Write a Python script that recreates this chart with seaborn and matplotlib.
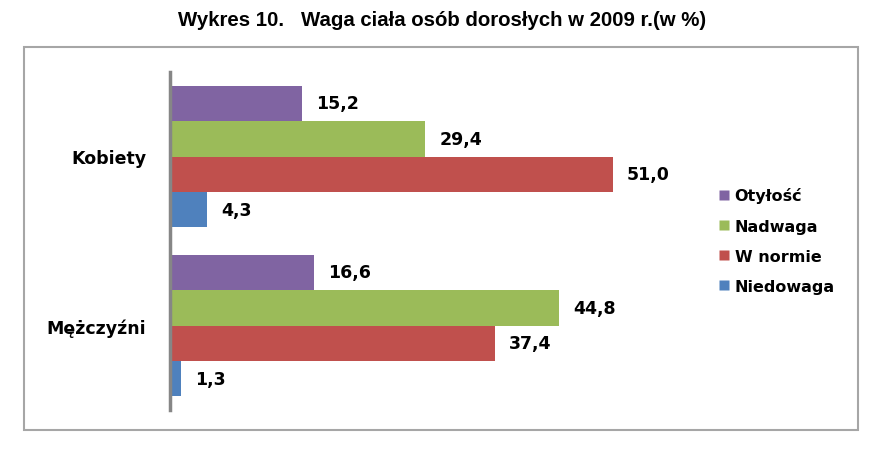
import matplotlib
matplotlib.use("Agg")
import matplotlib.pyplot as plt
import seaborn as sns
import pandas as pd
from matplotlib.patches import Rectangle

categories = ["Kobiety", "Mężczyźni"]
series = ["Otyłość", "Nadwaga", "W normie", "Niedowaga"]
otylosc = [15.2, 16.6]
nadwaga = [29.4, 44.8]
w_normie = [51.0, 37.4]
niedowaga = [4.3, 1.3]
colors = ["#8064A2", "#9BBB59", "#C0504D", "#4F81BD"]
title = "Wykres 10.   Waga ciała osób dorosłych w 2009 r.(w %)"

rows = []
for s, vals in zip(series, [otylosc, nadwaga, w_normie, niedowaga]):
    for c, v in zip(categories, vals):
        rows.append({"kat": c, "seria": s, "val": v})
df = pd.DataFrame(rows)

sns.set_theme(style="white")
plt.rcParams["font.family"] = ["DejaVu Sans"]
plt.rcParams["text.color"] = "black"
plt.rcParams["ytick.color"] = "black"

fig = plt.figure(figsize=(8.82, 4.52), dpi=100)
ax = fig.add_axes([170/882, 1-411/452, (691-170)/882, (411-73)/452])

sns.barplot(data=df, x="val", y="kat", hue="seria", order=categories,
            hue_order=series, palette=colors, orient="h", width=0.84,
            saturation=1, ax=ax, legend=False, edgecolor="none")

for cont in ax.containers:
    labels = [f"{v:.1f}".replace(".", ",") for v in cont.datavalues]
    ax.bar_label(cont, labels=labels, padding=10, fontsize=12.5, fontweight="bold", color="black")

ax.set_xlim(0, 60)
ax.set_ylim(1.5, -0.5)
ax.set_xlabel("")
ax.set_ylabel("")
ax.set_xticks([])
for side in ["top", "right", "bottom"]:
    ax.spines[side].set_visible(False)
ax.spines["left"].set_color("#868686")
ax.spines["left"].set_linewidth(2.5)
ax.tick_params(axis="y", length=0, pad=17, labelcolor="black")
for t in ax.get_yticklabels():
    t.set_fontweight("bold")
    t.set_fontsize(12.5)

handles = [plt.Line2D([], [], marker="s", linestyle="none", markersize=7.5,
                      markerfacecolor=c, markeredgecolor="none") for c in colors]
fig.legend(handles, series, loc="upper left", bbox_to_anchor=(702/882, 1-174/452),
           frameon=False, handletextpad=0.15, labelspacing=0.95,
           prop={"weight": "bold", "size": 11.5}, handlelength=1.0,
           labelcolor="black")

fig.patches.append(Rectangle((24/882, 1-431/452), (858-24)/882, (431-48)/452,
                             transform=fig.transFigure, fill=False,
                             edgecolor="#A6A6A6", linewidth=1.5))

fig.text(442/882, 1-20/452, title, ha="center", va="center", color="black",
         fontsize=14.7, fontweight="bold", family=["Liberation Sans", "DejaVu Sans"])

fig.savefig("out.png", dpi=100)
